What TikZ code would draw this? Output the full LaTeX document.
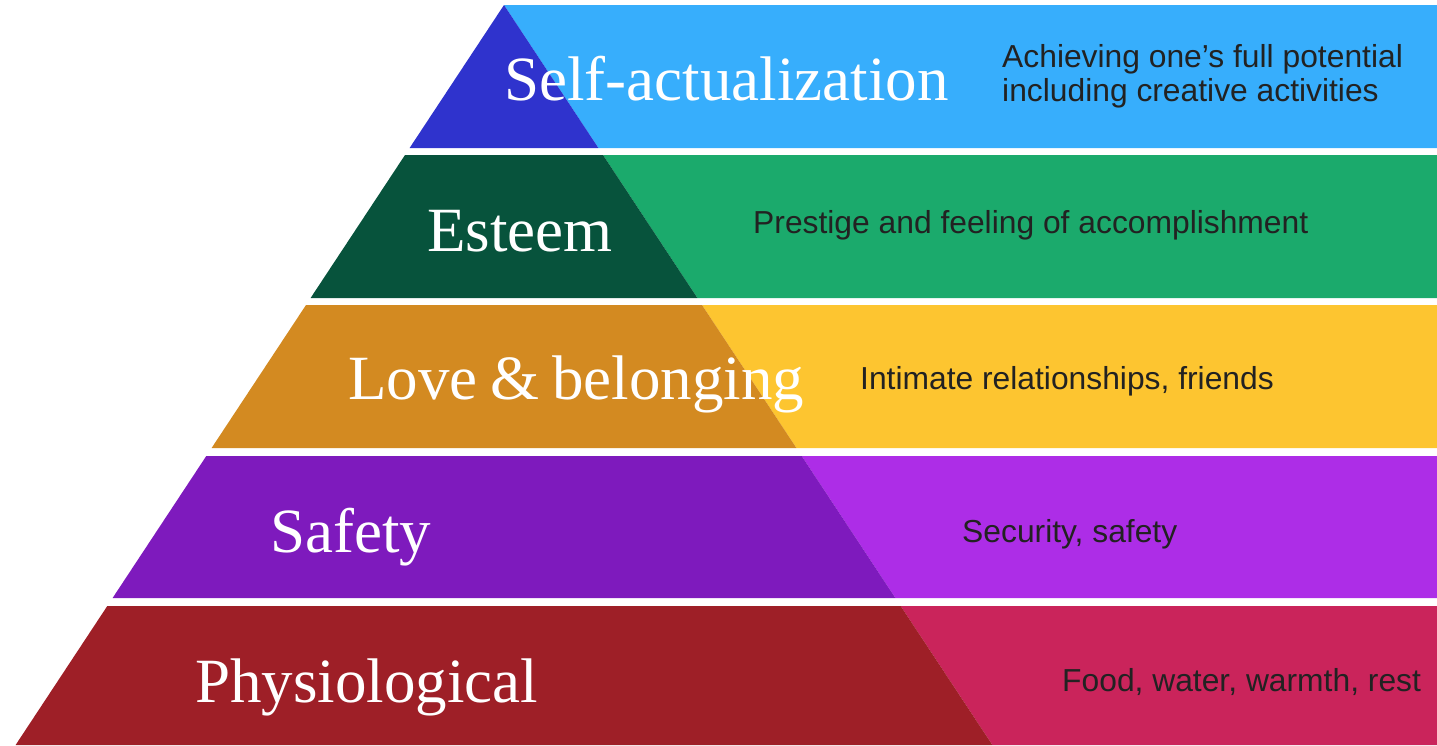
\documentclass[tikz,border=0pt]{standalone}
\usepackage{fontspec}
\setmainfont{Liberation Serif}
\newfontfamily\descfont{Liberation Sans}

\definecolor{selfdark}{HTML}{2F33CD}
\definecolor{selflight}{HTML}{37AEFC}
\definecolor{esteemdark}{HTML}{07533C}
\definecolor{esteemlight}{HTML}{1BAA6C}
\definecolor{lovedark}{HTML}{D38A21}
\definecolor{lovelight}{HTML}{FDC530}
\definecolor{safedark}{HTML}{7E1ABD}
\definecolor{safelight}{HTML}{AD2DE7}
\definecolor{physdark}{HTML}{9E1F27}
\definecolor{physlight}{HTML}{CA245B}
\definecolor{desctext}{HTML}{222222}

\tikzset{
    level/.style={
        anchor=base west,
        inner sep=0pt,
        text=white,
        font=\fontsize{63}{66}\selectfont
    },
    desc/.style={
        anchor=base west,
        inner sep=0pt,
        align=left,
        text=desctext,
        font=\descfont\fontsize{31.8}{34}\selectfont
    }
}

\begin{document}
\begin{tikzpicture}[x=1pt,y=-1pt]

    \useasboundingbox (0,0) rectangle (1437,745);

    % self-actualization
    \fill[selflight] (504,5) -- (1437,5) -- (1437,148) -- (598.4,148) -- cycle;
    \fill[selfdark] (504,5) -- (598.4,148) -- (409.6,148) -- cycle;
    \node[level] (selfname) at (504,100){Self-actualization};
    \node[desc] (selfdesc) at (1002,101){Achieving one’s full potential\\including creative activities};

    % esteem
    \fill[esteemlight] (603,155) -- (1437,155) -- (1437,298) -- (697.4,298) -- cycle;
    \fill[esteemdark] (405,155) -- (603,155) -- (697.4,298) -- (310.6,298) -- cycle;
    \node[level] (esteemname) at (427,251){Esteem};
    \node[desc] (esteemdesc) at (753,233){Prestige and feeling of accomplishment};

    % love & belonging
    \fill[lovelight] (702,305) -- (1437,305) -- (1437,448) -- (796.4,448) -- cycle;
    \fill[lovedark] (306,305) -- (702,305) -- (796.4,448) -- (211.6,448) -- cycle;
    \node[level] (lovename) at (348,399){Love\hspace{-3pt} \&\hspace{-3pt} belonging};
    \node[desc] (lovedesc) at (860,389){Intimate relationships, friends};

    % safety
    \fill[safelight] (801.7,456) -- (1437,456) -- (1437,598) -- (895.4,598) -- cycle;
    \fill[safedark] (206.3,456) -- (801.7,456) -- (895.4,598) -- (112.6,598) -- cycle;
    \node[level] (safename) at (270,552){Safety};
    \node[desc] (safedesc) at (962,542){Security, safety};

    % physiological
    \fill[physlight] (900.7,606) -- (1437,606) -- (1437,745) -- (992.4,745) -- cycle;
    \fill[physdark] (107.3,606) -- (900.7,606) -- (992.4,745) -- (15.6,745) -- cycle;
    \node[level] (physname) at (195,702){Physiological};
    \node[desc] (physdesc) at (1062,691){Food, water, warmth, rest};

\end{tikzpicture}
\end{document}
